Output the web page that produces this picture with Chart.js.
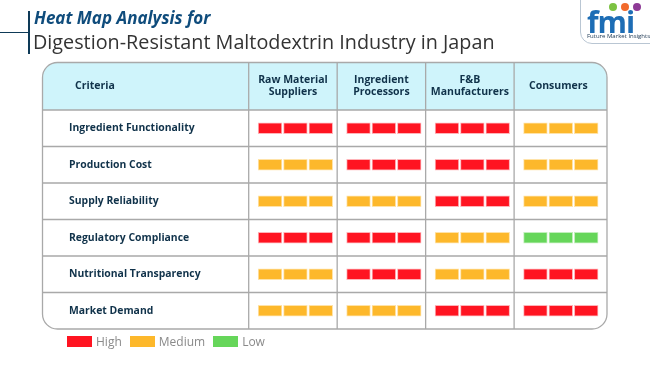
<!DOCTYPE html>
<html>
<head>
<meta charset="utf-8">
<script src="https://cdn.jsdelivr.net/npm/chart.js@4.4.1/dist/chart.umd.min.js"></script>
<style>
  body { margin: 0; background: #fff; font-family: 'Open Sans', sans-serif; }
  .page { position: relative; width: 650px; height: 365px; overflow: hidden; }
  .page canvas { position: absolute; left: 0; top: 0; }
  .rule-h { position: absolute; left: 0; top: 32px; width: 28px; height: 1px; background: #0e3a57; }
  .rule-v { position: absolute; left: 28px; top: 11px; width: 2px; height: 43px; background: #0e3a57; }
  .title1 { position: absolute; left: 34px; top: 6px; font-size: 17px; font-weight: 700; font-style: italic; color: #0f4c7c; white-space: nowrap; }
  .title2 { position: absolute; left: 33px; top: 28px; font-size: 19.8px; color: #333; white-space: nowrap; }
  .logo { position: absolute; left: 580px; top: -1px; width: 80px; height: 43px; border: 1px solid #b9c6d3; border-radius: 0 0 0 12px; }
  .logo .fmi { position: absolute; left: 6px; top: 1px; font: 700 30px 'Open Sans', sans-serif; color: #1d6db5; letter-spacing: -1px; }
  .logo .sub { position: absolute; left: 6px; top: 32px; font-size: 6px; color: #1a3550; white-space: nowrap; }
  .dot { position: absolute; width: 8px; height: 8px; border-radius: 50%; top: 3px; }
  .legend { position: absolute; left: 67px; top: 333px; display: flex; align-items: center; font-size: 12px; color: #8a8a8a; }
  .legend span.box { display: inline-block; width: 25px; height: 11px; margin-right: 4px; }
  .legend .item { display: flex; align-items: center; margin-right: 8px; }
</style>
</head>
<body>
<div class="page">
  <canvas id="heat" width="650" height="365"></canvas>
  <div class="rule-h"></div>
  <div class="rule-v"></div>
  <div class="title1">Heat Map Analysis for</div>
  <div class="title2">Digestion-Resistant Maltodextrin Industry in Japan</div>
  <div class="logo">
    <div class="dot" style="left:28px;background:#7cc242"></div>
    <div class="dot" style="left:40px;background:#f26a2c"></div>
    <div class="dot" style="left:52px;background:#8e3a96"></div>
    <div class="fmi">fmi</div>
    <div class="sub">Future Market Insights</div>
  </div>
  <div class="legend" id="legend"></div>
</div>
<script>
const criteria = [
  'Ingredient Functionality',
  'Production Cost',
  'Supply Reliability',
  'Regulatory Compliance',
  'Nutritional Transparency',
  'Market Demand'
];
const stakeholders = [
  ['Raw Material', 'Suppliers'],
  ['Ingredient', 'Processors'],
  ['F&B', 'Manufacturers'],
  ['Consumers']
];
const rawMaterialSuppliers = ['High', 'Medium', 'Medium', 'High', 'Medium', 'Medium'];
const ingredientProcessors = ['High', 'High', 'Medium', 'High', 'High', 'Medium'];
const fbManufacturers = ['High', 'High', 'High', 'Medium', 'Medium', 'High'];
const consumers = ['Medium', 'Medium', 'Medium', 'Low', 'High', 'High'];
const levelNames = ['High', 'Medium', 'Low'];

const columns = [rawMaterialSuppliers, ingredientProcessors, fbManufacturers, consumers];
const fill = { High: '#ff1421', Medium: '#fdb82b', Low: '#66d65a' };
const edge = { High: '#ffb3b8', Medium: '#ffe3a8', Low: '#c2efbc' };

// three blocks inside every cell
const segments = [[0.107, 0.375], [0.394, 0.662], [0.681, 0.949]];

const datasets = [];
columns.forEach((levels, c) => {
  segments.forEach(([a, b]) => {
    datasets.push({
      data: levels.map(() => [c + a, c + b]),
      backgroundColor: levels.map(l => fill[l]),
      borderColor: levels.map(l => edge[l]),
      borderWidth: 1,
      borderSkipped: false,
      barThickness: 11,
      grouped: false
    });
  });
});

const tableLeft = 42.5, tableTop = 62.5, radius = 15;
const lineColor = '#a9a9a9';
const textColor = '#10324a';

const tablePlugin = {
  id: 'table',
  beforeDatasetsDraw(chart) {
    const { ctx, chartArea: ca, scales: { x, y } } = chart;
    const L = tableLeft, T = tableTop, R = ca.right, B = ca.bottom;
    ctx.save();
    // header background
    ctx.beginPath();
    ctx.moveTo(L, ca.top);
    ctx.lineTo(L, T + radius);
    ctx.arcTo(L, T, L + radius, T, radius);
    ctx.lineTo(R - radius, T);
    ctx.arcTo(R, T, R, T + radius, radius);
    ctx.lineTo(R, ca.top);
    ctx.closePath();
    ctx.fillStyle = '#cff4fb';
    ctx.fill();

    ctx.strokeStyle = lineColor;
    ctx.lineWidth = 1.3;
    // row lines
    const rows = [ca.top];
    for (let i = 1; i < criteria.length; i++) {
      rows.push((y.getPixelForValue(i - 1) + y.getPixelForValue(i)) / 2);
    }
    rows.forEach(py => {
      ctx.beginPath(); ctx.moveTo(L, py); ctx.lineTo(R, py); ctx.stroke();
    });
    // column lines
    for (let c = 0; c < stakeholders.length; c++) {
      const px = x.getPixelForValue(c);
      ctx.beginPath(); ctx.moveTo(px, T); ctx.lineTo(px, B); ctx.stroke();
    }
    // outer border
    ctx.beginPath();
    ctx.roundRect(L, T, R - L, B - T, radius);
    ctx.stroke();

    // header text
    ctx.fillStyle = textColor;
    ctx.font = '700 10.5px "Open Sans", sans-serif';
    ctx.textBaseline = 'middle';
    ctx.textAlign = 'left';
    const headMid = (T + ca.top) / 2;
    ctx.fillText('Criteria', 75, headMid);
    ctx.textAlign = 'center';
    stakeholders.forEach((lines, c) => {
      const cx = (x.getPixelForValue(c) + x.getPixelForValue(Math.min(c + 1, x.max))) / 2;
      lines.forEach((t, k) => {
        ctx.fillText(t, cx, headMid + (k - (lines.length - 1) / 2) * 12);
      });
    });
    // criteria labels
    ctx.textAlign = 'left';
    ctx.font = '700 10.4px "Open Sans", sans-serif';
    criteria.forEach((t, i) => ctx.fillText(t, 69, y.getPixelForValue(i)));
    ctx.restore();
  }
};

new Chart(document.getElementById('heat'), {
  type: 'bar',
  data: { labels: criteria, datasets },
  options: {
    indexAxis: 'y',
    responsive: false,
    animation: false,
    layout: { padding: { left: 248.7, right: 43, top: 110, bottom: 36 } },
    scales: {
      x: { type: 'linear', min: 0, max: 4.05, display: false },
      y: { type: 'category', display: false, offset: true }
    },
    plugins: { legend: { display: false }, tooltip: { enabled: false } }
  },
  plugins: [tablePlugin]
});

const legend = document.getElementById('legend');
levelNames.forEach(l => {
  const item = document.createElement('div');
  item.className = 'item';
  item.innerHTML = '<span class="box" style="background:' + fill[l] + '"></span>' + l;
  legend.appendChild(item);
});
</script>
</body>
</html>
